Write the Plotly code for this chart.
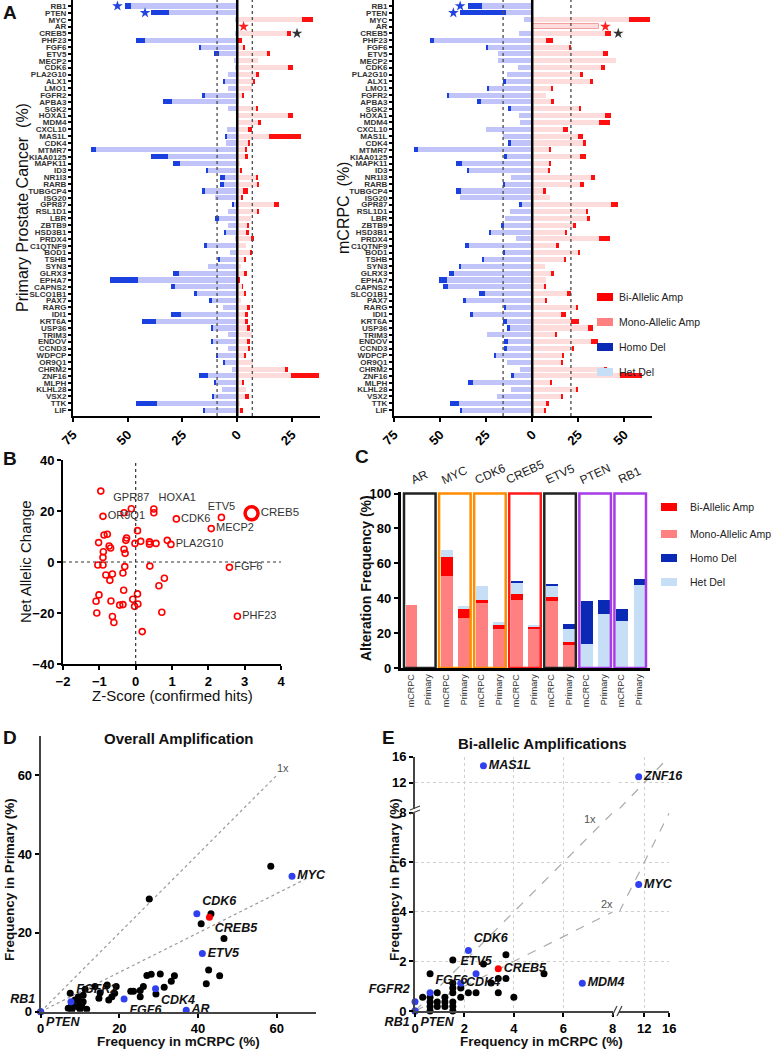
import plotly.graph_objects as go

FONT = "Arial, Liberation Sans, sans-serif"
W, H = 781, 1050

# ---------------- Panel A: copy-number frequencies per gene ----------------
genes = ['RB1', 'PTEN', 'MYC', 'AR', 'CREB5', 'PHF23', 'FGF6', 'ETV5', 'MECP2', 'CDK6',
         'PLA2G10', 'ALX1', 'LMO1', 'FGFR2', 'APBA3', 'SGK2', 'HOXA1', 'MDM4', 'CXCL10', 'MAS1L',
         'CDK4', 'MTMR7', 'KIAA0125', 'MAPK11', 'ID3', 'NR1I3', 'RARB', 'TUBGCP4', 'ISG20', 'GPR87',
         'RSL1D1', 'LBR', 'ZBTB9', 'HSD3B1', 'PRDX4', 'C1QTNF9', 'BOD1', 'TSHB', 'SYN3', 'GLRX3',
         'EPHA7', 'CAPNS2', 'SLCO1B1', 'PAX7', 'RARG', 'IDI1', 'KRT6A', 'USP36', 'TRIM3', 'ENDOV',
         'CCND3', 'WDPCP', 'OR9Q1', 'CHRM2', 'ZNF16', 'MLPH', 'KLHL28', 'VSX2', 'TTK', 'LIF']

prim_mono = [0, 0, 29.5, 0, 22.7, 0.5, 2.6, 13.5, 9.4, 23.1,
             9.0, 7.2, 6.7, 2.3, 1.0, 9.0, 23.1, 9.7, 4.7, 14.5,
             4.9, 3.7, 4.0, 1.4, 1.4, 8.7, 9.1, 2.6, 2.1, 16.6,
             9.1, 6.2, 4.7, 4.4, 6.1, 4.0, 6.1, 3.3, 1.7, 3.2,
             0.3, 2.3, 3.2, 1.7, 4.6, 4.0, 4.0, 4.6, 6.7, 4.6,
             5.2, 3.2, 7.0, 21.9, 24.5, 2.4, 4.0, 3.7, 1.4, 1.7]
prim_bi = [0, 0, 5.0, 0, 1.8, 1.5, 1.1, 1.5, 0, 2.3,
           0.8, 1.1, 0, 0.8, 0, 0.6, 2.3, 1.2, 2.0, 14.5,
           1.1, 0.9, 0.8, 0, 0.4, 0.9, 0.8, 2.1, 0.6, 2.4,
           0.8, 0, 0.8, 0.8, 1.5, 0, 0.6, 0.6, 0, 1.1,
           0.8, 0.3, 0.8, 0, 1.1, 0.8, 0.8, 1.1, 0, 1.4,
           0.5, 0.5, 0, 1.1, 12.7, 0.9, 0, 1.7, 0, 0.8]
prim_het = [48.4, 31.0, 1.0, 0, 1.0, 41.9, 16.9, 8.4, 1.7, 1.2,
            4.4, 5.9, 4.1, 15.1, 29.7, 4.0, 0.3, 0.3, 4.6, 4.9,
            5.3, 64.4, 31.4, 26.0, 13.5, 5.8, 6.1, 15.1, 10.0, 1.7,
            4.0, 8.5, 4.3, 5.5, 1.2, 14.2, 3.5, 8.2, 13.2, 26.8,
            45.5, 28.6, 18.3, 11.4, 6.5, 25.6, 37.1, 11.3, 4.4, 11.1,
            4.1, 8.8, 5.8, 2.4, 13.5, 10.0, 7.0, 10.7, 36.5, 14.8]
prim_homo = [3.0, 8.4, 0, 0, 0, 4.3, 0.5, 2.4, 0, 0,
             0, 0.6, 0, 0.9, 4.3, 0, 0, 0, 0, 0.8,
             0, 2.4, 7.9, 3.3, 0.8, 2.0, 1.7, 0.8, 0, 0.5,
             0, 1.5, 0, 0.6, 0, 0.9, 0, 0.6, 0, 2.7,
             12.8, 1.7, 1.5, 1.4, 0, 4.7, 6.5, 0.9, 0, 0.8,
             0, 0.9, 0.8, 0, 4.1, 0.6, 0, 0.8, 9.6, 0.8]

met_mono = [0, 0, 52.5, 36.4, 39.7, 7.6, 20.3, 38.4, 45.7, 37.3,
            26.4, 31.5, 10.3, 7.6, 10.7, 25.2, 39.7, 36.1, 16.5, 24.8,
            27.4, 9.1, 26.1, 9.1, 8.3, 32.1, 26.1, 5.8, 9.8, 42.8,
            29.2, 29.7, 21.9, 17.6, 36.4, 13.0, 24.6, 17.2, 7.1, 10.0,
            7.4, 6.2, 18.8, 7.2, 23.6, 15.4, 21.2, 30.1, 12.5, 31.9,
            21.4, 16.0, 15.8, 38.8, 47.8, 9.4, 23.6, 16.0, 8.0, 6.7]
met_bi = [0, 0, 11.5, 0, 3.3, 3.7, 0.9, 2.5, 0, 2.4,
          0.9, 1.3, 0.9, 0, 0.9, 1.4, 3.3, 6.3, 2.7, 2.7,
          1.8, 1.1, 3.3, 1.1, 1.1, 1.8, 1.8, 1.6, 0, 3.6,
          1.1, 1.4, 1.6, 1.3, 5.6, 1.6, 1.1, 1.1, 0, 1.8,
          0, 1.1, 2.4, 0.9, 1.4, 2.7, 4.0, 3.1, 1.1, 3.8,
          1.3, 1.4, 0.9, 1.8, 11.5, 1.1, 1.4, 0.7, 0.9, 0.7]
met_het = [27.4, 14.3, 4.7, 0, 7.4, 53.3, 24.1, 18.7, 18.7, 7.8,
           13.8, 14.1, 23.6, 45.5, 27.9, 11.6, 7.4, 6.9, 25.0, 15.6,
           11.6, 61.8, 13.8, 37.9, 34.6, 11.4, 15.0, 38.8, 39.0, 5.6,
           12.0, 15.0, 15.4, 22.8, 8.9, 34.4, 15.0, 26.1, 38.6, 42.4,
           46.0, 45.8, 25.4, 35.9, 14.7, 32.2, 13.8, 12.3, 24.8, 13.0,
           13.8, 19.7, 13.8, 6.5, 10.1, 31.9, 11.4, 19.2, 39.7, 38.2]
met_homo = [7.2, 24.8, 0, 0, 0, 2.2, 0.9, 0, 0, 0,
            0, 1.8, 0.5, 0.7, 1.8, 1.3, 0, 0, 0, 0,
            1.3, 2.4, 1.4, 3.3, 0.9, 0, 0.5, 2.5, 0, 1.6,
            0, 0, 1.3, 0.7, 0, 2.2, 1.1, 1.1, 1.1, 2.5,
            4.5, 2.5, 3.6, 1.8, 0.7, 1.4, 1.8, 1.3, 0, 2.4,
            1.3, 0.7, 0, 0, 1.4, 3.1, 0, 0, 4.9, 0.5]

star_genes = ['RB1', 'PTEN', 'MYC', 'AR', 'CREB5']
prim_star_x = [-54.7, -42.1, 38.5, 2.9, 27.3]
met_star_x = [-39.1, -42.8, 67.4, 39.7, 46.7]
star_colors = ['#2244DD', '#2244DD', '#FF2020', '#FF2020', '#333333']
prim_cutoffs = [-9.2, 6.9]
met_cutoffs = [-15.8, 21.0]

# ---------------- Panel B: z-score vs net allelic change ----------------
b_x = [-0.96, -0.32, 0.05, 0.5, 0.87, 0.56, 0.38, 0.38, 0.14, -0.02, -0.25, -0.27,
       -0.32, -0.29, -0.87, -0.78, -1.02, -0.73, -0.69, -0.89, -0.9,
       -1.04, -0.9, -0.3, 0.39, -0.82, -0.64, -0.35, -0.71, 0.64, 0.79, -0.33,
       0.05, -1.01, -1.09, -0.68, -0.08, -0.44, -0.35, 0.06, -0.03, -1.07, 0.72,
       -0.64, -0.6, 0.18]
b_y = [27.8, 19.3, 12.3, 19.3, 8.5, 7.3, 7.9, 7.0, 8.1, 7.3, 9.4, 8.5,
       5.0, 3.4, 10.6, 10.9, 7.6, 6.3, 5.5, 4.0, 1.8,
       -1.2, -1.2, -1.8, -1.6, -5.1, -4.7, -4.3, -7.2, -9.3, -6.4, -11.1,
       -12.5, -12.9, -15.4, -15.3, -14.6, -16.9, -16.7, -16.5, -17.4, -20.0, -19.7,
       -21.4, -23.7, -27.3]
b_names = ['OR9Q1', 'GPR87', 'HOXA1', 'CDK6', 'ETV5', 'MECP2', 'PLA2G10', 'FGF6', 'PHF23']
b_name_x = [-0.9, -0.12, 0.5, 1.12, 2.36, 2.08, 0.97, 2.58, 2.8]
b_name_y = [17.9, 20.9, 20.8, 16.9, 17.5, 13.1, 6.9, -2.1, -21.3]
b_name_pos = ['middle right', 'top center', 'top right', 'middle right', 'top center',
              'middle right', 'middle right', 'middle right', 'middle right']
b_creb5 = [3.19, 19.1]

# ---------------- Panel C: alteration frequency ----------------
c_groups = ['AR', 'MYC', 'CDK6', 'CREB5', 'ETV5', 'PTEN', 'RB1']
c_group_colors = ['#222222', '#FF8C00', '#FF8C00', '#FF1A1A', '#222222', '#A83BE8', '#A83BE8']
c_cohorts = ['mCRPC', 'Primary'] * 7
c_mono = [36.4, 0, 52.6, 29.0, 37.3, 22.3, 39.2, 22.5, 38.5, 13.3, 0, 0, 0, 0]
c_bi = [0, 0, 11.0, 4.9, 1.9, 2.5, 3.5, 1.3, 2.3, 1.6, 0, 0, 0, 0]
c_het = [0, 0, 4.2, 1.5, 7.7, 1.5, 6.4, 1.2, 6.4, 7.8, 14.1, 31.2, 27.2, 47.6]
c_homo = [0, 0, 0, 0, 0, 0, 0.8, 0, 0.8, 2.8, 24.4, 8.0, 6.9, 3.4]

# ---------------- Panel D: overall amplification ----------------
d_x = [58.5, 27.6, 43.3, 40.8, 46.6, 42.7, 45.5, 42.1, 33.2, 34.0, 30.4, 28.1, 27.0,
       31.4, 29.3, 26.1, 25.3, 25.3, 23.6, 22.9, 19.2, 16.9, 18.8, 18.1, 17.3, 15.1,
       13.8, 14.8, 11.3, 10.8, 9.6, 10.8, 10.0, 8.7, 7.9, 9.2, 10.4, 11.7, 7.0, 7.9, 10.0, 7.5]
d_y = [36.9, 28.6, 24.9, 22.3, 18.6, 10.6, 9.1, 7.1, 7.7, 9.1, 9.6, 9.5, 9.2,
       6.2, 4.5, 6.4, 5.4, 3.8, 5.2, 5.2, 6.4, 6.8, 4.7, 3.8, 3.0, 4.8,
       6.4, 3.4, 5.7, 4.2, 3.8, 2.5, 2.3, 3.0, 1.7, 1.3, 1.5, 0.6, 0.9, 0.4, 0.6, 4.7]
d_hits = ['MYC', 'CDK6', 'ETV5', 'CDK4', 'FGF6', 'AR', 'FGFR2', 'RB1', 'PTEN']
d_hit_x = [63.9, 39.7, 41.1, 29.2, 21.2, 37.0, 7.7, 0, 0]
d_hit_y = [34.4, 24.9, 14.8, 5.8, 3.2, 0.35, 2.5, 0, 0]
d_hit_pos = ['middle right', 'top right', 'middle right', 'bottom right', 'bottom right',
             'middle right', 'top right', 'top left', 'bottom right']
d_creb5 = [42.9, 24.0]

# ---------------- Panel E: bi-allelic amplifications ----------------
e_x = [1.53, 3.68, 2.77, 0.61, 5.22, 3.37, 3.68, 3.08, 1.53, 1.53, 1.85, 0.9, 1.53,
       2.16, 2.47, 3.37, 0.31, 1.85, 4.0, 0.61, 1.21, 0.61, 0.9, 1.21, 1.53,
       0.61, 0.9, 1.21, 1.53, 0.61, 1.53]
e_y = [2.06, 2.27, 1.9, 1.5, 1.5, 1.31, 1.31, 1.13, 1.12, 0.93, 0.93, 0.74, 0.74,
       0.74, 0.74, 0.74, 0.55, 0.55, 0.55, 0.55, 0.55, 0.36, 0.36, 0.36, 0.36,
       0.18, 0.18, 0.18, 0.18, 0.0, 0.0]
e_hits = ['MAS1L', 'ZNF16', 'MYC', 'MDM4', 'CDK6', 'ETV5', 'CDK4', 'FGF6', 'FGFR2', 'RB1', 'PTEN']
e_hit_x = [2.77, 11.1, 11.1, 6.77, 2.16, 2.47, 1.85, 0.61, 0, 0, 0]
e_hit_y = [14.6, 12.9, 5.1, 1.12, 2.44, 1.5, 1.12, 0.74, 0.37, 0, 0]
e_hit_pos = ['middle right', 'middle right', 'middle right', 'middle right', 'top right',
             'top center', 'middle right', 'top right', 'top left', 'bottom left', 'bottom right']
e_creb5 = [3.37, 1.7]

RED = '#FF0000'
SALMON = '#FF8080'
DKBLUE = '#0A2AB5'
LTBLUE = '#C6DFF7'


def xd(a, b):
    return [a / W, b / W]


def yd(top, bottom):
    return [1 - bottom / H, 1 - top / H]


def px(x, y):
    return x / W, 1 - y / H


fig = go.Figure()

# ---- A: horizontal stacked bars ----
for xa, ya, mono, bi, het, homo in [('x', 'y', prim_mono, prim_bi, prim_het, prim_homo),
                                    ('x2', 'y2', met_mono, met_bi, met_het, met_homo)]:
    line_w = [1 if (g == 'AR' and xa == 'x2') else 0 for g in genes]
    fig.add_trace(go.Bar(y=genes, x=mono, orientation='h', xaxis=xa, yaxis=ya, width=0.74,
                         marker=dict(color='#FFDCDC', line=dict(color='#F2A0A0', width=line_w)),
                         showlegend=False))
    fig.add_trace(go.Bar(y=genes, x=bi, orientation='h', xaxis=xa, yaxis=ya, width=0.74,
                         marker=dict(color='#FF1010', line=dict(width=0)), showlegend=False))
    fig.add_trace(go.Bar(y=genes, x=[-v for v in het], orientation='h', xaxis=xa, yaxis=ya,
                         width=0.74, marker=dict(color='#C0C4F8', line=dict(width=0)),
                         showlegend=False))
    fig.add_trace(go.Bar(y=genes, x=[-v for v in homo], orientation='h', xaxis=xa, yaxis=ya,
                         width=0.74, marker=dict(color='#1A40E0', line=dict(width=0)),
                         showlegend=False))

for xa, ya, sx in [('x', 'y', prim_star_x), ('x2', 'y2', met_star_x)]:
    fig.add_trace(go.Scatter(x=sx, y=star_genes, xaxis=xa, yaxis=ya, mode='markers',
                             marker=dict(symbol='star', size=8, color=star_colors),
                             cliponaxis=False, showlegend=False))

# ---- B ----
fig.add_trace(go.Scatter(x=b_x, y=b_y, xaxis='x3', yaxis='y3', mode='markers',
                         marker=dict(symbol='circle-open', size=6, color=RED, line=dict(width=1.6)),
                         showlegend=False))
fig.add_trace(go.Scatter(x=b_name_x, y=b_name_y, xaxis='x3', yaxis='y3', mode='markers+text',
                         text=b_names, textposition=b_name_pos,
                         textfont=dict(size=11, color='#333', family=FONT),
                         marker=dict(symbol='circle-open', size=6, color=RED, line=dict(width=1.6)),
                         cliponaxis=False, showlegend=False))
fig.add_trace(go.Scatter(x=[b_creb5[0]], y=[b_creb5[1]], xaxis='x3', yaxis='y3', mode='markers+text',
                         text=['CREB5'], textposition='middle right',
                         textfont=dict(size=11.5, color='#333', family=FONT),
                         marker=dict(symbol='circle-open', size=13, color=RED, line=dict(width=3.5)),
                         cliponaxis=False, showlegend=False))

# ---- C ----
c_pos = list(range(len(c_cohorts)))
for vals, col in [(c_mono, SALMON), (c_bi, RED), (c_het, LTBLUE), (c_homo, DKBLUE)]:
    fig.add_trace(go.Bar(x=c_pos, y=vals, xaxis='x4', yaxis='y4', width=0.68,
                         marker=dict(color=col, line=dict(width=0)), showlegend=False))

# ---- D ----
d_ref = [0, 60]
d_ref2 = [0, 68]
fig.add_trace(go.Scatter(x=d_ref, y=d_ref, xaxis='x5', yaxis='y5', mode='lines',
                         line=dict(color='#999', width=1.2, dash='dot'), showlegend=False))
fig.add_trace(go.Scatter(x=d_ref2, y=[v / 2 for v in d_ref2], xaxis='x5', yaxis='y5', mode='lines',
                         line=dict(color='#999', width=1.2, dash='dot'), showlegend=False))
fig.add_trace(go.Scatter(x=d_x, y=d_y, xaxis='x5', yaxis='y5', mode='markers',
                         marker=dict(size=7, color='black'), showlegend=False))
hit_font = dict(size=12.5, color='#111', family=FONT, weight='bold', style='italic')
fig.add_trace(go.Scatter(x=d_hit_x, y=d_hit_y, xaxis='x5', yaxis='y5', mode='markers+text',
                         text=d_hits, textposition=d_hit_pos, textfont=hit_font,
                         marker=dict(size=7, color='#3040F0'), cliponaxis=False, showlegend=False))
fig.add_trace(go.Scatter(x=[d_creb5[0]], y=[d_creb5[1]], xaxis='x5', yaxis='y5', mode='markers+text',
                         text=['CREB5'], textposition='bottom right', textfont=hit_font,
                         marker=dict(size=7, color=RED), cliponaxis=False, showlegend=False))


# ---- E (broken axes: four segments) ----
def e_axes(x, y):
    col = 0 if x <= 8 else 1
    row = 0 if y <= 8 else 1
    return [('x6', 'y6'), ('x7', 'y7'), ('x8', 'y8'), ('x9', 'y9')][row * 2 + col]


e_ref = [(0, 8, 1, 'x6', 'y6'), (8, 16, 1, 'x9', 'y9'), (0, 8, 2, 'x6', 'y6'), (8, 16, 2, 'x7', 'y7')]
for a, b, ratio, xa, ya in e_ref:
    fig.add_trace(go.Scatter(x=[a, b], y=[a / ratio, b / ratio], xaxis=xa, yaxis=ya, mode='lines',
                             line=dict(color='#AAA', width=1.2, dash='dash'), showlegend=False))

groups = {}
for x, y in zip(e_x, e_y):
    groups.setdefault(e_axes(x, y), ([], []))
    groups[e_axes(x, y)][0].append(x)
    groups[e_axes(x, y)][1].append(y)
for (xa, ya), (gx, gy) in groups.items():
    fig.add_trace(go.Scatter(x=gx, y=gy, xaxis=xa, yaxis=ya, mode='markers',
                             marker=dict(size=7, color='black'), cliponaxis=False, showlegend=False))

hit_groups = {}
for n, x, y, p in zip(e_hits, e_hit_x, e_hit_y, e_hit_pos):
    hit_groups.setdefault(e_axes(x, y), []).append((n, x, y, p))
for (xa, ya), items in hit_groups.items():
    fig.add_trace(go.Scatter(x=[i[1] for i in items], y=[i[2] for i in items], xaxis=xa, yaxis=ya,
                             mode='markers+text', text=[i[0] for i in items],
                             textposition=[i[3] for i in items], textfont=hit_font,
                             marker=dict(size=7, color='#3040F0'), cliponaxis=False, showlegend=False))
fig.add_trace(go.Scatter(x=[e_creb5[0]], y=[e_creb5[1]], xaxis='x6', yaxis='y6', mode='markers+text',
                         text=['CREB5'], textposition='middle right', textfont=hit_font,
                         marker=dict(size=7, color=RED), cliponaxis=False, showlegend=False))

# ---------------- axes ----------------
base = dict(showgrid=False, zeroline=False, showline=True, linecolor='black', linewidth=2,
            ticks='outside', tickwidth=1.5, ticklen=4, tickcolor='black', automargin=False,
            tickfont=dict(size=13, family=FONT, color='black', weight='bold'))
gene_axis = dict(base, type='category', categoryorder='array', categoryarray=genes,
                 tickmode='array', tickvals=genes, ticktext=genes,
                 range=[59.85, -0.876], ticklen=3,
                 tickfont=dict(size=8, family=FONT, color='#333', weight='bold'))
grid = dict(showgrid=True, gridcolor='#D0D0D0', griddash='dot', gridwidth=1)
hidden = dict(showline=False, showticklabels=False, ticks='', zeroline=False, automargin=False)

layout_axes = dict(
    xaxis=dict(base, domain=xd(73, 320), range=[-75, 37.8], tickvals=[-75, -50, -25, 0, 25],
               ticktext=['75', '50', '25', '0', '25'], tickangle=-45, anchor='y'),
    yaxis=dict(gene_axis, domain=yd(0, 416), anchor='x'),
    xaxis2=dict(base, domain=xd(394, 652), range=[-75, 65], tickvals=[-75, -50, -25, 0, 25, 50],
                ticktext=['75', '50', '25', '0', '25', '50'], tickangle=-45, anchor='y2'),
    yaxis2=dict(gene_axis, domain=yd(0, 416), anchor='x2'),
    xaxis3=dict(base, domain=xd(63, 281), range=[-2, 4], dtick=1, anchor='y3'),
    yaxis3=dict(base, domain=yd(460, 664), range=[-40, 40], tickvals=[-40, -20, 0, 20, 40], anchor='x3'),
    xaxis4=dict(base, domain=xd(400.5, 649.5), range=[-0.6, 13.6], tickvals=c_pos, ticktext=c_cohorts,
                tickangle=-90, ticks='', linewidth=2.5,
                tickfont=dict(size=9, family=FONT, color='#333'), anchor='y4'),
    yaxis4=dict(base, domain=yd(491.8, 668), range=[0, 101], tickvals=[0, 20, 40, 60, 80, 100],
                linewidth=2.5, anchor='x4'),
    xaxis5=dict(base, domain=xd(40.7, 316), range=[0, 70], tickvals=[0, 20, 40, 60],
                linecolor='#444', anchor='y5'),
    yaxis5=dict(base, domain=yd(736, 1011.7), range=[0, 70], tickvals=[0, 20, 40, 60],
                linecolor='#444', anchor='x5'),
    xaxis6=dict(base, **grid, domain=xd(415, 612.7), range=[0, 8], tickvals=[0, 2, 4, 6, 8],
                linecolor='#444', anchor='y6'),
    yaxis6=dict(base, **grid, domain=yd(812.7, 1011), range=[0, 8], tickvals=[0, 2, 4, 6, 8],
                linecolor='#444', anchor='x6'),
    xaxis7=dict(base, **grid, domain=xd(619.3, 669.3), range=[8, 16], tickvals=[12, 16],
                linecolor='#444', anchor='y7'),
    yaxis7=dict(grid, **hidden, domain=yd(812.7, 1011), range=[0, 8], tickvals=[2, 4, 6], anchor='x7'),
    xaxis8=dict(grid, **hidden, domain=xd(415, 612.7), range=[0, 8], tickvals=[2, 4, 6, 8], anchor='y8'),
    yaxis8=dict(base, **grid, domain=yd(756.7, 808.7), range=[8, 16], tickvals=[12, 16],
                linecolor='#444', anchor='x8'),
    xaxis9=dict(grid, **hidden, domain=xd(619.3, 669.3), range=[8, 16], tickvals=[12], anchor='y9'),
    yaxis9=dict(grid, **hidden, domain=yd(756.7, 808.7), range=[8, 16], tickvals=[12, 16], anchor='x9'),
)

# ---------------- shapes ----------------
shapes = []
for xa, cuts in [('x', prim_cutoffs), ('x2', met_cutoffs)]:
    for c in cuts:
        shapes.append(dict(type='line', xref=xa, yref='y domain', x0=c, x1=c, y0=0, y1=1,
                           line=dict(color='#555', width=1.4, dash='dot'), layer='above'))
    shapes.append(dict(type='line', xref=xa, yref='y domain', x0=0, x1=0, y0=0, y1=1,
                       line=dict(color='black', width=2.5), layer='above'))
shapes.append(dict(type='line', xref='x3', yref='y3 domain', x0=0, x1=0, y0=0, y1=1,
                   line=dict(color='#333', width=1.2, dash='dot')))
shapes.append(dict(type='line', xref='x3 domain', yref='y3', x0=0, x1=1, y0=0, y1=0,
                   line=dict(color='#333', width=1.2, dash='dot')))
for i, col in enumerate(c_group_colors):
    shapes.append(dict(type='rect', xref='x4', yref='y4', x0=2 * i - 0.4, x1=2 * i + 1.4, y0=0, y1=100,
                       line=dict(color=col, width=2.5), layer='above'))

# legends drawn as swatches
legend_items = [('Bi-Allelic Amp', RED), ('Mono-Allelic Amp', SALMON), ('Homo Del', DKBLUE), ('Het Del', LTBLUE)]
annotations = []
for (lx, tx, ys) in [(597, 617, [297, 322, 347, 372]), (661, 688, [507, 534, 558, 582])]:
    for (label, col), yy in zip(legend_items, ys):
        x0, y0 = px(lx, yy - 4)
        x1, y1 = px(lx + 16, yy + 4)
        shapes.append(dict(type='rect', xref='paper', yref='paper', x0=x0, x1=x1, y0=y1, y1=y0,
                           fillcolor=col, line=dict(width=0)))
        ax_, ay_ = px(tx, yy)
        annotations.append(dict(x=ax_, y=ay_, xref='paper', yref='paper', text=label, showarrow=False,
                                xanchor='left', yanchor='middle', font=dict(size=10.5, color='#222')))

# axis-break marks on E
for (bx0, by0, bx1, by1) in [(612, 1016, 617, 1006), (617, 1016, 622, 1006),
                             (410, 814, 420, 810), (410, 810, 420, 806)]:
    x0, y0 = px(bx0, by0)
    x1, y1 = px(bx1, by1)
    shapes.append(dict(type='line', xref='paper', yref='paper', x0=x0, y0=y0, x1=x1, y1=y1,
                       line=dict(color='#444', width=1.2)))


def note(x, y, text, size, bold=False, angle=0, color='#111', italic=False):
    ax_, ay_ = px(x, y)
    annotations.append(dict(x=ax_, y=ay_, xref='paper', yref='paper', text=text, showarrow=False,
                            textangle=angle, xanchor='center', yanchor='middle',
                            font=dict(size=size, color=color, weight='bold' if bold else 'normal',
                                      style='italic' if italic else 'normal')))


for letter, lx, ly in [('A', 10, 12), ('B', 10, 458), ('C', 362, 456), ('D', 10, 737), ('E', 388, 737)]:
    note(lx, ly, letter, 19, bold=True)

note(22, 208, 'Primary Prostate Cancer  (%)', 16, angle=-90)
note(343, 208, 'mCRPC  (%)', 16, angle=-90)
note(25, 562, 'Net Allelic Change', 15, angle=-90)
note(172, 695, 'Z-Score (confirmed hits)', 15)
note(366, 578, 'Alteration Frequency (%)', 14, bold=True, angle=-90)
note(178, 738, 'Overall Amplification', 15, bold=True)
note(178, 1041, 'Frequency in mCRPC (%)', 13.5, bold=True)
note(9, 880, 'Frequency in Primary (%)', 13.5, bold=True, angle=-90)
note(542, 743, 'Bi-allelic Amplifications', 15, bold=True)
note(541, 1041, 'Frequency in mCRPC (%)', 13.5, bold=True)
note(394, 880, 'Frequency in Primary (%)', 13.5, bold=True, angle=-90)

for i, g in enumerate(c_groups):
    annotations.append(dict(x=2 * i + 0.5, y=100, xref='x4', yref='y4', text=g, showarrow=False,
                            textangle=-25, yanchor='bottom', yshift=4,
                            font=dict(size=12, color='#222')))

ref_labels = [('1x', 61.7, 61.8, 'x5', 'y5'), ('2x', 74, 33.8, 'x5', 'y5'),
              ('1x', 7.1, 7.75, 'x6', 'y6'), ('2x', 7.75, 4.3, 'x6', 'y6'),
              ('1x', 16.2, 15.2, 'x9', 'y9'), ('2x', 16.9, 7.8, 'x7', 'y7')]
for t, x, y, xa, ya in ref_labels:
    annotations.append(dict(x=x, y=y, xref=xa, yref=ya, text=t, showarrow=False,
                            font=dict(size=11, color='#555')))

fig.update_layout(
    template='none',
    width=W, height=H, margin=dict(l=0, r=0, t=0, b=0, autoexpand=False),
    paper_bgcolor='white', plot_bgcolor='white',
    font=dict(family=FONT, color='#111'),
    barmode='relative', bargap=0,
    showlegend=False,
    shapes=shapes, annotations=annotations,
    **layout_axes,
)

# the page's default 8px body margin would shift the whole figure; drop it
fig.write_html("out.html", config={'displayModeBar': False},
               post_script="document.body.style.margin = '0';")
